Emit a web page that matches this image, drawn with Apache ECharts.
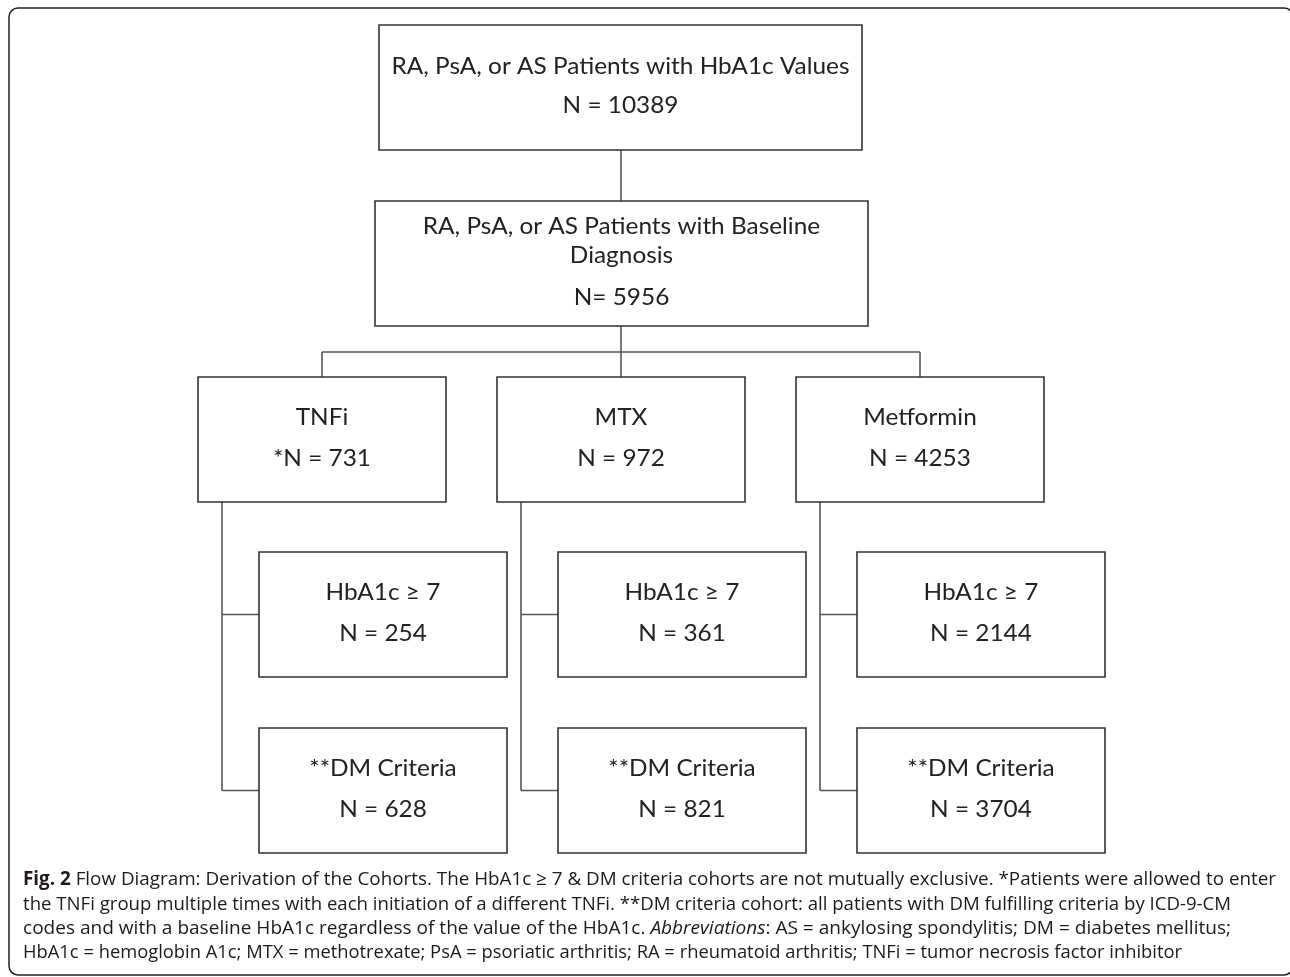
<!DOCTYPE html>
<html>
<head>
<meta charset="utf-8">
<script src="https://cdn.jsdelivr.net/npm/echarts@6/dist/echarts.min.js"></script>
<style>
html,body{margin:0;padding:0;background:#fff;}
#c{width:1290px;height:977px;}
</style>
</head>
<body>
<div id="c"></div>
<script>
// ---------------- data ----------------
const topLines = ['RA, PsA, or AS Patients with HbA1c Values'];
const topN = 10389;
const baseLines = ['RA, PsA, or AS Patients with Baseline', 'Diagnosis'];
const baseN = 5956;
const groupNames = ['TNFi', 'MTX', 'Metformin'];
const groupPrefix = ['*', '', ''];
const groupN = [731, 972, 4253];
const subNames = ['HbA1c \u2265 7', '**DM Criteria'];
const hba1cN = [254, 361, 2144];
const dmN = [628, 821, 3704];
const captionLines = [
  [['b', 'Fig. 2'], ['n', ' Flow Diagram: Derivation of the Cohorts. The HbA1c \u2265 7 & DM criteria cohorts are not mutually exclusive. *Patients were allowed to enter']],
  [['n', 'the TNFi group multiple times with each initiation of a different TNFi. **DM criteria cohort: all patients with DM fulfilling criteria by ICD-9-CM']],
  [['n', 'codes and with a baseline HbA1c regardless of the value of the HbA1c. '], ['i', 'Abbreviations'], ['n', ': AS = ankylosing spondylitis; DM = diabetes mellitus;']],
  [['n', 'HbA1c = hemoglobin A1c; MTX = methotrexate; PsA = psoriatic arthritis; RA = rheumatoid arthritis; TNFi = tumor necrosis factor inhibitor']]
];

// ---------------- layout ----------------
const L = {
  frame: {x: 9, y: 8, w: 1284, h: 967, r: 9},
  box1: {x: 379, y: 25, w: 483, h: 125, lineY: [67, 106]},
  box2: {x: 375, y: 201, w: 493, h: 125, lineY: [227, 256, 298]},
  spineX: 621,
  busY: 352,
  groupLeft: [198, 497, 796],
  groupTop: 377,
  boxW: 248,
  boxH: 125,
  textOff: [41, 82],
  subOffset: 61,
  subTops: [552, 728],
  branchOffset: 24,
  dropOffset: 124,
  boxFont: 'Lato',
  boxFontSize: 23,
  topTextWidth: 458,
  capFont: 'Open Sans',
  capFontSize: 19,
  capX: 23,
  capY: [880, 904.5, 929, 953],
  capRight: [1276, 1231, 1231, 1182]
};
const boxStroke = '#333';
const lineStroke = '#555';
const textColor = '#222';
const capColor = '#1e1a1b';

// measurement helper
const cv = document.createElement('canvas').getContext('2d');
function measure(str, font) { cv.font = font; return cv.measureText(str).width; }

const boxScale = L.topTextWidth / measure(topLines[0], `${L.boxFontSize}px ${L.boxFont}`);

const els = [];
// outer frame
els.push({type: 'rect', shape: {x: L.frame.x, y: L.frame.y, width: L.frame.w, height: L.frame.h, r: L.frame.r},
  style: {fill: '#fff', stroke: '#222', lineWidth: 1.5}, z: 0});

function line(x1, y1, x2, y2) {
  els.push({type: 'line', shape: {x1, y1, x2, y2}, style: {stroke: lineStroke, lineWidth: 1.6}, z: 1});
}
function box(x, y, w, h) {
  els.push({type: 'rect', shape: {x, y, width: w, height: h}, style: {fill: '#fff', stroke: boxStroke, lineWidth: 1.6}, z: 2});
}
function text(str, cx, cy) {
  els.push({type: 'text', x: cx, y: cy, scaleX: boxScale, z: 3,
    style: {text: str, x: 0, y: 0, align: 'center', verticalAlign: 'middle',
      fontFamily: L.boxFont, fontSize: L.boxFontSize, fill: textColor}});
}

// connectors
line(L.spineX, L.box1.y + L.box1.h, L.spineX, L.box2.y);
line(L.spineX, L.box2.y + L.box2.h, L.spineX, L.busY);
const drops = L.groupLeft.map(gl => gl + L.dropOffset);
line(Math.min(...drops), L.busY, Math.max(...drops), L.busY);
L.groupLeft.forEach((gl, i) => {
  line(drops[i], L.busY, drops[i], L.groupTop);
  const bx = gl + L.branchOffset;
  const lastMid = L.subTops[L.subTops.length - 1] + L.boxH / 2;
  line(bx, L.groupTop + L.boxH, bx, lastMid);
  L.subTops.forEach(t => line(bx, t + L.boxH / 2, gl + L.subOffset, t + L.boxH / 2));
});

// top boxes
box(L.box1.x, L.box1.y, L.box1.w, L.box1.h);
const b1c = L.box1.x + L.box1.w / 2;
topLines.concat(['N = ' + topN]).forEach((s, k) => text(s, b1c, L.box1.lineY[k]));
box(L.box2.x, L.box2.y, L.box2.w, L.box2.h);
const b2c = L.box2.x + L.box2.w / 2;
baseLines.concat(['N= ' + baseN]).forEach((s, k) => text(s, b2c, L.box2.lineY[k]));

// group boxes and sub boxes
const subN = [hba1cN, dmN];
L.groupLeft.forEach((gl, i) => {
  box(gl, L.groupTop, L.boxW, L.boxH);
  text(groupNames[i], gl + L.boxW / 2, L.groupTop + L.textOff[0]);
  text(groupPrefix[i] + 'N = ' + groupN[i], gl + L.boxW / 2, L.groupTop + L.textOff[1]);
  L.subTops.forEach((t, k) => {
    const sx = gl + L.subOffset;
    box(sx, t, L.boxW, L.boxH);
    text(subNames[k], sx + L.boxW / 2, t + L.textOff[0]);
    text('N = ' + subN[k][i], sx + L.boxW / 2, t + L.textOff[1]);
  });
});

// caption
const capStyles = {
  n: {fontFamily: L.capFont, fontSize: L.capFontSize, fontWeight: 'normal', fontStyle: 'normal', fill: capColor},
  b: {fontFamily: L.capFont, fontSize: L.capFontSize, fontWeight: 'bold', fontStyle: 'normal', fill: capColor},
  i: {fontFamily: L.capFont, fontSize: L.capFontSize, fontWeight: 'normal', fontStyle: 'italic', fill: capColor}
};
function cssFont(k) {
  const s = capStyles[k];
  return `${s.fontStyle} ${s.fontWeight} ${s.fontSize}px "${L.capFont}"`;
}
captionLines.forEach((segs, li) => {
  let w = 0;
  segs.forEach(([k, s]) => { w += measure(s, cssFont(k)); });
  const sc = (L.capRight[li] - L.capX) / w;
  const rich = segs.map(([k, s]) => `{${k}|${s.replace(/[{}|]/g, '')}}`).join('');
  els.push({type: 'text', x: L.capX, y: L.capY[li], scaleX: sc, z: 3,
    style: {text: rich, x: 0, y: 0, align: 'left', verticalAlign: 'middle', rich: capStyles,
      fontFamily: L.capFont, fontSize: L.capFontSize, fill: capColor}});
});

const chart = echarts.init(document.getElementById('c'), null, {renderer: 'canvas'});
chart.setOption({animation: false, graphic: {elements: els}});
</script>
</body>
</html>
